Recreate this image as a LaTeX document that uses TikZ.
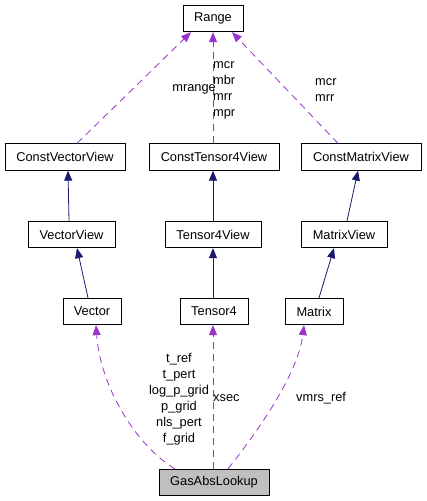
\documentclass[tikz,border=0pt]{standalone}
\usepackage{fontspec}
\setmainfont{Liberation Sans}
\usetikzlibrary{arrows.meta,calc}
\definecolor{inhcol}{HTML}{191970}
\definecolor{usecol}{HTML}{9A32CD}
\definecolor{boxgray}{HTML}{BFBFBF}
\begin{document}
\begin{tikzpicture}[x=1pt,y=-1pt,
  cls/.style={draw=black,line width=0.8pt,fill=white,inner sep=0pt,minimum height=26.5pt,font=\fontsize{12.8}{15}\selectfont},
  inh/.style={draw=inhcol,line width=0.8pt,-{Triangle[length=10pt,width=8pt]}},
  use/.style={draw=usecol,line width=0.8pt,dash pattern=on 7pt off 5pt,-{Triangle[length=10pt,width=8pt]}},
  lbl/.style={inner sep=0pt,font=\fontsize{12.8}{16}\selectfont}]
\useasboundingbox (0,0) rectangle (427,501);
\node[cls,minimum width=60pt] (range) at (213,18.5) {Range};
\node[cls,minimum width=120pt] (cvv) at (65,157) {ConstVectorView};
\node[cls,minimum width=130pt] (ct4v) at (214,157) {ConstTensor4View};
\node[cls,minimum width=120pt] (cmv) at (361,157) {ConstMatrixView};
\node[cls,minimum width=87pt] (vv) at (71.5,234.5) {VectorView};
\node[cls,minimum width=96pt] (t4v) at (213,234.5) {Tensor4View};
\node[cls,minimum width=86pt] (mv) at (344,234.5) {MatrixView};
\node[cls,minimum width=58pt] (vec) at (92,311.5) {Vector};
\node[cls,minimum width=68pt] (t4) at (214,311.5) {Tensor4};
\node[cls,minimum width=58pt] (mat) at (314,311.5) {Matrix};
\node[cls,minimum width=110pt,fill=boxgray] (gal) at (214,482.5) {GasAbsLookup};
% inheritance
\draw[inh] ([xshift=-2.5pt]vv.north) -- ([xshift=3pt]cvv.south);
\draw[inh] ([xshift=0pt]t4v.north) -- ([xshift=-1pt]ct4v.south);
\draw[inh] ([xshift=3pt]mv.north) -- ([xshift=-3pt]cmv.south);
\draw[inh] ([xshift=-4pt]vec.north) -- ([xshift=5.5pt]vv.south);
\draw[inh] ([xshift=-1pt]t4.north) -- (t4v.south);
\draw[inh] ([xshift=5pt]mat.north) -- ([xshift=-10pt]mv.south);
% usage
\draw[use] ([xshift=12pt]cvv.north) -- ([xshift=-22pt]range.south);
\draw[use] ([xshift=-1pt]ct4v.north) -- (range.south);
\draw[use] ([xshift=-23pt]cmv.north) -- ([xshift=19pt]range.south);
\draw[use] ([xshift=-39pt]gal.north) .. controls (135,445) and (100,385) .. ([xshift=4pt]vec.south);
\draw[use] ([xshift=-1pt]gal.north) -- ([xshift=-1pt]t4.south);
\draw[use] ([xshift=14pt]gal.north) .. controls (255,435) and (298,375) .. ([xshift=-10pt]mat.south);
% labels
\node[lbl,anchor=east] (lmr) at (216,89) {mrange};
\node[lbl,anchor=west,align=left] (lct) at (213,90) {mcr\\mbr\\mrr\\mpr};
\node[lbl,anchor=west,align=left] (lcm) at (315,90) {mcr\\ mrr};
\node[lbl,align=center] (lvec) at (179,399) {t\_ref\\t\_pert\\log\_p\_grid\\p\_grid\\nls\_pert\\f\_grid};
\node[lbl,anchor=west] (lt4) at (213,398) {xsec};
\node[lbl,anchor=west] (lmat) at (296,398) {vmrs\_ref};
\end{tikzpicture}
\end{document}
